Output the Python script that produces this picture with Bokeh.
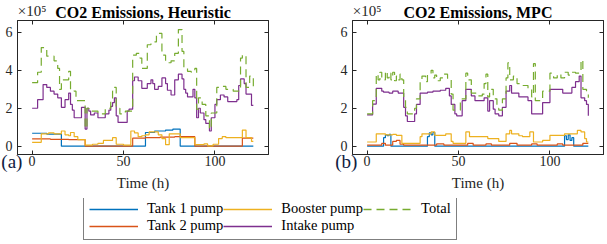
from bokeh.plotting import figure
from bokeh.models import Range1d, Legend, LegendItem, LinearAxis, FixedTicker
from bokeh.layouts import row, column
from bokeh.embed import file_html
from bokeh.resources import INLINE

# ---------------- data (values in units of 1e5) ----------------
time_ticks = [0, 50, 100]
value_ticks = [0, 2, 4, 6]

# Heuristic
h_tank1_t = [0, 8, 16, 62, 67, 73, 77, 81, 121]
h_tank1_v = [0.68, 0.64, 0.0, 0.72, 0.80, 0.85, 0.90, 0.0, 0.0]
h_tank2_t = [0, 10, 20, 29, 55, 62, 70, 78, 89, 115, 121]
h_tank2_v = [0.38, 0.36, 0.34, 0.0, 0.42, 0.45, 0.48, 0.50, 0.0, 0.42, 0.42]
h_boost_t = [0, 5, 9, 12, 16, 18, 20, 21, 23, 25, 29, 33, 36, 39, 44, 46, 50, 54, 56, 58, 60, 62, 64,
             69, 71, 73, 75, 81, 89, 94, 96, 99, 102, 104, 106, 115, 117, 120, 121]
h_boost_v = [0.20, 0.65, 0.70, 0.65, 0.80, 0.60, 0.55, 0.72, 0.50, 0.35, 0.05, 0.10, 0.15, 0.30, 0.45, 0.10,
             0.05, 0.80, 0.70, 0.50, 0.55, 0.60, 0.75, 0.60, 0.40, 0.08, 0.65, 0.45, 0.08, 0.12, 0.02, 0.10,
             0.40, 0.50, 0.45, 0.85, 0.45, 0.25, 0.25]
h_intake_t = [0, 3, 6, 8, 10, 12, 14, 16, 18, 20, 21, 22, 23, 27, 29, 30, 31, 32, 34, 36, 40, 42, 43, 44,
              45, 46, 47, 52, 53, 55, 56, 58, 60, 63, 65, 66, 67, 69, 71, 73, 74, 76, 78, 80, 82, 83, 84,
              85, 88, 89, 90, 91, 92, 94, 95, 97, 98, 100, 101, 103, 105, 107, 112, 113, 114, 116, 117,
              120, 121]
h_intake_v = [2.00, 2.45, 3.25, 3.10, 2.90, 2.75, 2.55, 2.05, 2.45, 2.80, 2.20, 1.90, 1.50, 2.05, 0.90,
              2.00, 1.85, 1.65, 1.75, 1.50, 1.70, 1.90, 2.10, 2.30, 2.55, 1.60, 1.25, 1.85, 1.95, 3.45,
              3.65, 3.45, 3.05, 3.30, 3.50, 3.30, 3.00, 3.15, 3.60, 3.30, 2.95, 2.70, 3.50, 3.80, 3.55,
              3.00, 2.80, 2.60, 3.00, 2.55, 1.50, 2.00, 1.75, 1.40, 1.20, 0.80, 1.50, 2.20, 2.45, 2.70,
              2.60, 2.35, 2.45, 3.20, 3.55, 3.30, 2.75, 2.15, 2.15]
h_total_t = [0, 3, 5, 8, 12, 14, 15, 16, 20, 21, 23, 24, 29, 30, 31, 36, 40, 43, 44, 45, 46, 48, 51, 55,
             57, 59, 60, 63, 65, 68, 71, 73, 76, 78, 80, 82, 83, 85, 87, 89, 90, 91, 93, 95, 97, 98, 101,
             104, 106, 110, 114, 115, 117, 119, 121]
h_total_v = [3.35, 3.90, 5.20, 4.75, 4.50, 4.10, 3.00, 3.50, 3.95, 3.00, 2.90, 2.40, 0.95, 2.00, 1.85,
             1.70, 2.00, 2.40, 2.90, 3.10, 2.00, 1.70, 1.85, 4.80, 4.90, 4.65, 4.10, 5.35, 5.50, 5.95,
             4.80, 4.40, 4.50, 4.90, 6.15, 5.00, 4.10, 3.95, 3.90, 4.10, 1.95, 2.55, 2.20, 1.60, 0.90,
             1.75, 3.10, 3.15, 3.00, 2.90, 4.65, 4.80, 3.10, 3.70, 3.10]

# MPC
m_tank1_t = [0, 9, 10, 11, 12, 13, 33, 34, 35, 36, 37, 108, 109, 110, 111, 112, 113, 121]
m_tank1_v = [0.0, 0.45, 0.60, 0.55, 0.62, 0.0, 0.50, 0.70, 0.60, 0.72, 0.0, 0.55, 0.35, 0.60, 0.30,
             0.45, 0.0, 0.0]
m_tank2_t = [0, 8, 10, 14, 16, 18, 20, 38, 42, 55, 58, 65, 68, 78, 82, 90, 93, 104, 107, 118, 121]
m_tank2_v = [0.05, 0.15, 0.05, 0.25, 0.30, 0.10, 0.05, 0.12, 0.05, 0.15, 0.05, 0.12, 0.05, 0.15, 0.05,
             0.12, 0.05, 0.12, 0.05, 0.15, 0.15]
m_boost_t = [0, 5, 10, 14, 16, 19, 29, 30, 35, 37, 43, 46, 47, 54, 56, 66, 72, 76, 78, 79, 83, 85, 89,
             91, 96, 100, 108, 115, 117, 119, 120, 121]
m_boost_v = [0.22, 0.65, 0.60, 0.62, 0.57, 0.15, 0.50, 0.65, 0.75, 0.57, 0.65, 0.25, 0.15, 0.75, 0.50,
             0.40, 0.25, 0.65, 0.83, 0.65, 0.55, 0.50, 0.75, 0.22, 0.30, 0.57, 0.65, 0.83, 0.75, 0.40,
             0.22, 0.22]
m_intake_t = [0, 3, 5, 8, 9, 12, 14, 17, 20, 21, 22, 26, 27, 29, 33, 36, 40, 43, 45, 46, 48, 49, 52, 54,
              57, 59, 64, 66, 67, 69, 70, 72, 74, 76, 78, 79, 83, 88, 90, 96, 100, 107, 112, 114, 116,
              117, 119, 120, 121]
m_intake_v = [1.65, 2.22, 3.05, 2.90, 2.85, 2.80, 2.90, 2.80, 2.05, 1.60, 1.30, 1.70, 2.20, 2.80, 2.85,
              2.90, 2.95, 3.05, 2.65, 2.20, 1.70, 1.60, 2.40, 3.00, 2.65, 2.40, 2.55, 1.85, 2.40, 1.95,
              1.70, 1.60, 2.05, 2.90, 3.20, 2.80, 2.60, 2.40, 1.70, 2.30, 3.00, 2.80, 3.10, 3.40, 3.70,
              2.55, 2.40, 2.20, 1.60]
m_total_t = [0, 3, 5, 6, 7, 8, 9, 10, 11, 12, 13, 14, 15, 16, 17, 18, 19, 20, 21, 22, 26, 27, 29, 30,
             32, 33, 35, 36, 37, 38, 40, 42, 44, 46, 47, 51, 54, 55, 57, 60, 63, 64, 65, 66, 67, 69, 71,
             72, 74, 76, 77, 78, 80, 82, 85, 88, 90, 91, 92, 96, 100, 102, 104, 106, 108, 110, 112, 114,
             116, 117, 118, 120, 121]
m_total_v = [1.70, 2.40, 3.80, 3.50, 3.90, 3.60, 3.50, 3.95, 3.60, 3.85, 3.50, 3.90, 3.45, 3.70, 3.50,
             3.80, 3.50, 2.55, 2.05, 1.70, 2.00, 2.50, 3.50, 3.70, 3.40, 3.80, 4.00, 3.60, 3.75, 3.45,
             3.60, 3.80, 3.50, 2.75, 1.90, 2.50, 3.85, 3.50, 2.80, 2.65, 2.75, 3.30, 3.80, 2.60, 3.00,
             2.50, 2.00, 1.90, 2.50, 3.60, 4.40, 3.50, 3.70, 3.30, 3.20, 3.00, 2.60, 4.35, 2.40, 2.90,
             3.85, 3.60, 3.80, 3.60, 3.90, 3.75, 3.90, 3.85, 4.00, 4.55, 3.00, 2.80, 2.55]

labels = ["Tank 1 pump", "Tank 2 pump", "Booster pump", "Intake pump", "Total"]
colors = ["#0072BD", "#D95319", "#EDB120", "#7E2F8E", "#77AC30"]
dashes = ["solid", "solid", "solid", "solid", "8 5"]

SERIF = "Liberation Serif"
TXT = "#262626"
TAGC = "#10203f"

Y0, Y1 = -0.44, 6.63
X0, X1 = -8.0, 129.3
TAG_X = -5.3


def tick_axis(ticks):
    return LinearAxis(ticker=FixedTicker(ticks=ticks), major_tick_in=4, major_tick_out=0,
                      minor_tick_line_color=None, major_label_text_color=None,
                      major_label_text_font_size="0px", major_label_standoff=0,
                      axis_line_color=TXT, major_tick_line_color=TXT)


def make_plot(title, tag, series, mbl, mbr, width):
    p = figure(width=width, height=198, x_range=Range1d(X0, X1), y_range=Range1d(Y0, Y1),
               output_backend="svg", toolbar_location=None,
               min_border_left=mbl, min_border_right=mbr,
               min_border_top=20, min_border_bottom=44)
    p.grid.visible = False
    p.outline_line_color = TXT
    p.outline_line_width = 1
    p.background_fill_color = "white"
    p.border_fill_color = "white"

    xa = p.xaxis[0]
    ya = p.yaxis[0]
    for ax in (xa, ya):
        ax.major_tick_in = 4
        ax.major_tick_out = 0
        ax.minor_tick_line_color = None
        ax.major_label_text_font = SERIF
        ax.major_label_text_font_size = "14px"
        ax.major_label_text_color = TXT
    ya.axis_line_color = TXT
    ya.major_tick_line_color = TXT
    xa.axis_line_color = None
    xa.major_tick_line_color = None
    xa.ticker = FixedTicker(ticks=time_ticks)
    ya.ticker = FixedTicker(ticks=value_ticks)
    xa.major_label_standoff = -30
    ya.major_label_standoff = 5
    xa.axis_label = "Time (h)"
    xa.axis_label_text_font = SERIF
    xa.axis_label_text_font_size = "15px"
    xa.axis_label_text_font_style = "normal"
    xa.axis_label_text_color = TXT
    xa.axis_label_standoff = 6

    # panel tag (a)/(b): bottom axis next to the frame, right-aligned just past its left edge
    tag_ax = LinearAxis(ticker=FixedTicker(ticks=[TAG_X]), major_label_overrides={TAG_X: tag},
                        axis_line_color=None, major_tick_line_color=None, minor_tick_line_color=None,
                        major_tick_in=0, major_tick_out=0, major_label_standoff=7,
                        major_label_orientation=0.0001,
                        major_label_text_font=SERIF, major_label_text_font_size="19px",
                        major_label_text_color=TAGC)
    p.below = [tick_axis(time_ticks), tag_ax, xa]

    # box ticks on top and right (no labels)
    p.add_layout(tick_axis(time_ticks), "above")
    p.add_layout(tick_axis(value_ticks), "right")

    # exponent marker and title on an upper axis
    top_lab = LinearAxis(ticker=FixedTicker(ticks=[0]), major_label_overrides={0: "×10⁵"},
                         axis_line_color=None, major_tick_line_color=None, minor_tick_line_color=None,
                         major_tick_in=0, major_tick_out=0, major_label_standoff=2,
                         major_label_text_font=SERIF, major_label_text_font_size="15px",
                         major_label_text_color=TXT,
                         axis_label=title, axis_label_text_font=SERIF,
                         axis_label_text_font_size="16px", axis_label_text_font_style="bold",
                         axis_label_text_color="black", axis_label_standoff=-21)
    p.add_layout(top_lab, "above")

    for (t, v), c, d in zip(series, colors, dashes):
        p.step(t, v, mode="after", line_color=c, line_width=1.2, line_dash=d)
    return p


heur = [(h_tank1_t, h_tank1_v), (h_tank2_t, h_tank2_v), (h_boost_t, h_boost_v),
        (h_intake_t, h_intake_v), (h_total_t, h_total_v)]
mpc = [(m_tank1_t, m_tank1_v), (m_tank2_t, m_tank2_v), (m_boost_t, m_boost_v),
       (m_intake_t, m_intake_v), (m_total_t, m_total_v)]

pa = make_plot("CO2 Emissions, Heuristic", "(a)", heur, 17, 52, 320)
pb = make_plot("CO2 Emissions, MPC", "(b)", mpc, 32, 1, 284)

# legend panel
lg = figure(width=604, height=44, x_range=Range1d(0, 1), y_range=Range1d(0, 1),
            output_backend="svg", toolbar_location=None,
            x_axis_type=None, y_axis_type=None, min_border=0)
lg.grid.visible = False
lg.outline_line_color = None
lg.background_fill_color = "white"
items = []
for lab, c, d in zip(labels, colors, dashes):
    r = lg.line([5, 6], [5, 6], line_color=c, line_width=1.3, line_dash=d)
    items.append(LegendItem(label=lab, renderers=[r]))
legend = Legend(items=items, location=(83, 2), orientation="vertical", nrows=2,
                border_line_color="black", border_line_width=1, background_fill_color="white",
                label_text_font=SERIF, label_text_font_size="14.5px", label_text_color="black",
                glyph_width=49, glyph_height=16, label_height=16, label_standoff=9,
                spacing=0, padding=5, margin=0)
lg.add_layout(legend, "center")

layout = column(row(pa, pb), lg)
open("out.html", "w").write(file_html(layout, INLINE))
